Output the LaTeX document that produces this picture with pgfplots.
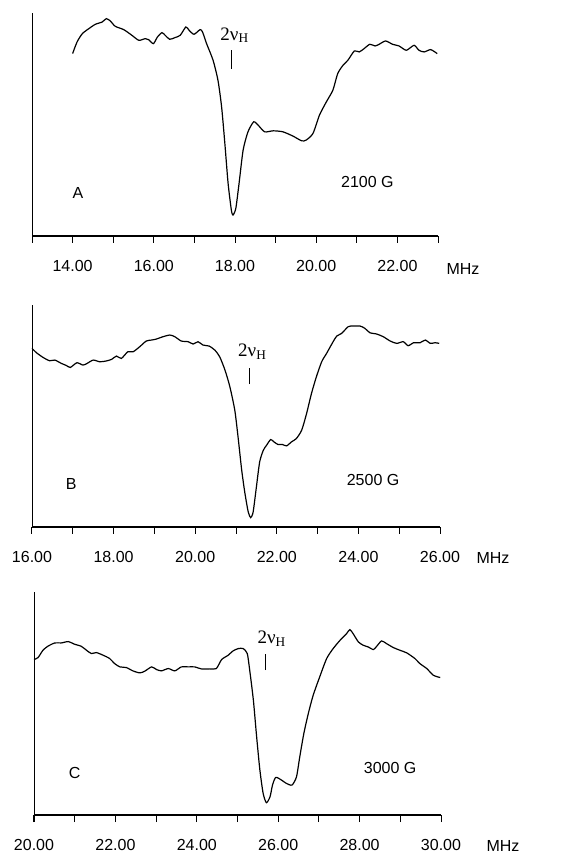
\documentclass[border=0pt]{standalone}
\usepackage{pgfplots}
\pgfplotsset{compat=1.18}
\usepackage{fontspec}
\setmainfont{Liberation Sans}
\newfontfamily\serif{Liberation Serif}

\pgfplotsset{
  spec/.style={
    scale only axis,
    axis lines*=left,
    ytick=\empty,
    ymin=0,
    tick align=outside,
    major tick length=7pt, minor tick length=7pt,
    every tick/.style={black, line width=1pt},
    x axis line style={line width=1.6pt},
    y axis line style={line width=0.9pt},
    xticklabel style={font=\fontsize{16}{16}\selectfont, yshift=-14pt},
    /pgf/number format/assume math mode=true,
    /pgf/number format/.cd, fixed, fixed zerofill, precision=2, /pgfplots/.cd,
    xlabel={MHz},
    xlabel style={font=\fontsize{16}{16}\selectfont, at={(rel axis cs:1,0)}, anchor=west},
    clip=false,
  },
  curve/.style={black, line width=1.2pt, smooth, tension=0.4, no marks},
}

\begin{document}
\begin{tikzpicture}[x=1pt,y=1pt]
\path[use as bounding box] (0,0) rectangle (564,854);

% panel A, 2100 G
\begin{axis}[spec, at={(32pt,618pt)}, anchor=south west,
  width=406pt, height=223pt, xmin=13, xmax=23, ymax=670,
  xtick={14,16,...,22}, minor xtick={13,15,...,23},
  xlabel style={xshift=5pt, yshift=-33pt}]
\addplot[curve] coordinates {
(14.00,548) (14.11,583) (14.24,608) (14.40,623) (14.56,636) (14.73,643)
(14.83,653) (14.93,646) (15.05,630) (15.26,620) (15.46,603) (15.63,588)
(15.79,593) (15.87,590) (15.99,578) (16.09,598) (16.20,611) (16.28,603)
(16.39,591) (16.52,596) (16.65,603) (16.79,628) (16.87,618) (16.99,606)
(17.14,620) (17.20,613) (17.30,578) (17.46,528) (17.58,468) (17.67,388)
(17.75,278) (17.83,158) (17.91,78) (17.95,63) (18.02,83) (18.10,158)
(18.20,258) (18.32,313) (18.46,343) (18.57,333) (18.73,313) (18.94,316)
(19.18,313) (19.43,300) (19.64,286) (19.75,288) (19.92,308) (20.08,363)
(20.25,403) (20.41,438) (20.53,488) (20.66,513) (20.78,528) (20.94,556)
(21.06,553) (21.18,563) (21.32,576) (21.45,571) (21.55,576) (21.71,586)
(21.88,576) (22.04,571) (22.22,558) (22.41,573) (22.53,558) (22.66,553)
(22.82,560) (22.98,548)
};
\node[font=\fontsize{16}{16}\selectfont] at (axis cs:14.13,130) {A};
\node[font=\fontsize{16}{16}\selectfont] at (axis cs:21.26,163) {2100 G};
\node[font=\serif\fontsize{19}{19}\selectfont] at (axis cs:17.99,603) {2ν\textsubscript{H}};
\draw[line width=0.7pt] (axis cs:17.9,503) -- (axis cs:17.9,558);
\end{axis}

% panel B, 2500 G
\begin{axis}[spec, at={(32pt,327pt)}, anchor=south west,
  width=408pt, height=222pt, xmin=16, xmax=26, ymax=665,
  xtick={16,18,...,26}, minor xtick={17,19,...,25},
  xlabel style={xshift=33pt, yshift=-31pt}]
\addplot[curve] coordinates {
(16.00,535) (16.11,522) (16.27,508) (16.43,498) (16.56,500) (16.72,490)
(16.84,484) (16.94,478) (17.10,492) (17.25,485) (17.35,490) (17.50,500)
(17.66,495) (17.81,497) (17.95,502) (18.07,512) (18.19,505) (18.35,525)
(18.48,525) (18.64,540) (18.80,557) (18.93,560) (19.05,563) (19.21,570)
(19.38,575) (19.50,570) (19.66,557) (19.83,555) (19.95,548) (20.07,555)
(20.19,545) (20.34,542) (20.48,530) (20.60,510) (20.73,470) (20.85,420)
(20.97,350) (21.05,270) (21.14,170) (21.22,100) (21.30,45) (21.36,28)
(21.42,45) (21.50,120) (21.58,195) (21.67,230) (21.75,245) (21.85,262)
(21.93,255) (22.03,247) (22.14,247) (22.24,243) (22.36,255) (22.48,265)
(22.61,290) (22.73,340) (22.85,400) (22.97,450) (23.10,495) (23.22,520)
(23.38,555) (23.47,572) (23.59,580) (23.75,600) (23.87,602) (24.04,602)
(24.16,595) (24.28,582) (24.45,578) (24.61,570) (24.78,557) (24.94,550)
(25.10,555) (25.22,543) (25.35,552) (25.51,552) (25.64,560) (25.76,550)
(25.88,552) (25.98,550)
};
\node[font=\fontsize{16}{16}\selectfont] at (axis cs:16.96,128) {B};
\node[font=\fontsize{16}{16}\selectfont] at (axis cs:24.36,140) {2500 G};
\node[font=\serif\fontsize{19}{19}\selectfont] at (axis cs:21.40,525) {2ν\textsubscript{H}};
\draw[line width=0.7pt] (axis cs:21.32,428) -- (axis cs:21.32,475);
\end{axis}

% panel C, 3000 G
\begin{axis}[spec, at={(34pt,39pt)}, anchor=south west,
  width=407pt, height=223pt, xmin=20, xmax=30, ymax=670,
  xtick={20,22,...,30}, minor xtick={21,23,...,29},
  xlabel style={xshift=42pt, yshift=-31pt}]
\addplot[curve] coordinates {
(20.00,467) (20.10,473) (20.22,495) (20.34,507) (20.51,517) (20.67,517)
(20.84,521) (21.00,513) (21.16,507) (21.29,495) (21.41,485) (21.53,488)
(21.70,480) (21.86,470) (21.98,455) (22.11,445) (22.27,443) (22.43,433)
(22.60,427) (22.72,432) (22.89,445) (23.01,437) (23.13,433) (23.30,440)
(23.46,433) (23.62,445) (23.79,445) (23.95,445) (24.11,439) (24.32,439)
(24.48,440) (24.61,467) (24.77,480) (24.89,493) (25.02,500) (25.14,500)
(25.24,485) (25.30,435) (25.39,345) (25.47,235) (25.55,135) (25.63,65)
(25.71,37) (25.80,55) (25.86,90) (25.94,113) (26.08,105) (26.20,95)
(26.34,90) (26.45,115) (26.53,175) (26.63,245) (26.74,305) (26.86,360)
(27.02,415) (27.19,470) (27.35,500) (27.52,525) (27.68,545) (27.76,557)
(27.84,545) (27.97,520) (28.09,510) (28.21,505) (28.34,497) (28.42,507)
(28.54,523) (28.66,515) (28.83,503) (28.99,495) (29.16,487) (29.36,470)
(29.48,455) (29.65,440) (29.81,420) (29.98,413)
};
\node[font=\fontsize{16}{16}\selectfont] at (axis cs:21.00,125) {C};
\node[font=\fontsize{16}{16}\selectfont] at (axis cs:28.75,140) {3000 G};
\node[font=\serif\fontsize{19}{19}\selectfont] at (axis cs:25.84,530) {2ν\textsubscript{H}};
\draw[line width=0.7pt] (axis cs:25.69,435) -- (axis cs:25.69,485);
\end{axis}
\end{tikzpicture}
\end{document}
